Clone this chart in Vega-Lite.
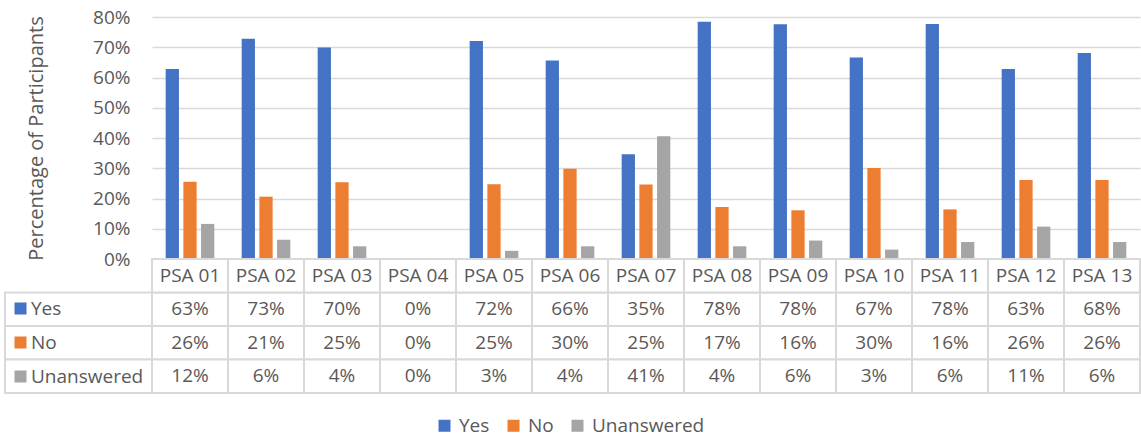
{
  "$schema": "https://vega.github.io/schema/vega-lite/v6.json",
  "padding": {"left": 4, "top": 8, "right": 0, "bottom": 6},
  "width": 988,
  "height": 376,
  "config": {
    "font": "Open Sans",
    "view": {"stroke": null},
    "text": {"font": "Open Sans"}
  },
  "datasets": {
    "psa": [
      {"cat": "PSA 01", "series": "Yes", "value": 0.628},
      {"cat": "PSA 01", "series": "No", "value": 0.2555},
      {"cat": "PSA 01", "series": "Unanswered", "value": 0.116},
      {"cat": "PSA 02", "series": "Yes", "value": 0.728},
      {"cat": "PSA 02", "series": "No", "value": 0.206},
      {"cat": "PSA 02", "series": "Unanswered", "value": 0.064},
      {"cat": "PSA 03", "series": "Yes", "value": 0.699},
      {"cat": "PSA 03", "series": "No", "value": 0.254},
      {"cat": "PSA 03", "series": "Unanswered", "value": 0.042},
      {"cat": "PSA 04", "series": "Yes", "value": 0},
      {"cat": "PSA 04", "series": "No", "value": 0},
      {"cat": "PSA 04", "series": "Unanswered", "value": 0},
      {"cat": "PSA 05", "series": "Yes", "value": 0.721},
      {"cat": "PSA 05", "series": "No", "value": 0.247},
      {"cat": "PSA 05", "series": "Unanswered", "value": 0.027},
      {"cat": "PSA 06", "series": "Yes", "value": 0.656},
      {"cat": "PSA 06", "series": "No", "value": 0.298},
      {"cat": "PSA 06", "series": "Unanswered", "value": 0.042},
      {"cat": "PSA 07", "series": "Yes", "value": 0.346},
      {"cat": "PSA 07", "series": "No", "value": 0.246},
      {"cat": "PSA 07", "series": "Unanswered", "value": 0.406},
      {"cat": "PSA 08", "series": "Yes", "value": 0.784},
      {"cat": "PSA 08", "series": "No", "value": 0.172},
      {"cat": "PSA 08", "series": "Unanswered", "value": 0.042},
      {"cat": "PSA 09", "series": "Yes", "value": 0.776},
      {"cat": "PSA 09", "series": "No", "value": 0.161},
      {"cat": "PSA 09", "series": "Unanswered", "value": 0.061},
      {"cat": "PSA 10", "series": "Yes", "value": 0.666},
      {"cat": "PSA 10", "series": "No", "value": 0.301},
      {"cat": "PSA 10", "series": "Unanswered", "value": 0.031},
      {"cat": "PSA 11", "series": "Yes", "value": 0.777},
      {"cat": "PSA 11", "series": "No", "value": 0.164},
      {"cat": "PSA 11", "series": "Unanswered", "value": 0.056},
      {"cat": "PSA 12", "series": "Yes", "value": 0.628},
      {"cat": "PSA 12", "series": "No", "value": 0.261},
      {"cat": "PSA 12", "series": "Unanswered", "value": 0.107},
      {"cat": "PSA 13", "series": "Yes", "value": 0.681},
      {"cat": "PSA 13", "series": "No", "value": 0.261},
      {"cat": "PSA 13", "series": "Unanswered", "value": 0.056}
    ]
  },
  "data": {"name": "psa"},
  "resolve": {"scale": {"x": "independent", "y": "independent"}},
  "layer": [
    {
      "mark": {"type": "bar"},
      "encoding": {
        "x": {
          "field": "cat", "type": "nominal", "axis": null,
          "scale": {"paddingInner": 0.36, "paddingOuter": 0.18}
        },
        "xOffset": {
          "field": "series", "type": "nominal",
          "sort": ["Yes", "No", "Unanswered"],
          "scale": {"domain": ["Yes", "No", "Unanswered"], "paddingInner": 0.25, "paddingOuter": 0}
        },
        "y": {
          "field": "value", "type": "quantitative",
          "scale": {"domain": [0, 0.8], "nice": false, "range": [242, 0]},
          "axis": {
            "values": [0, 0.1, 0.2, 0.3, 0.4, 0.5, 0.6, 0.7, 0.8],
            "format": ".0%",
            "labelFontSize": 19,
            "labelColor": "#595959",
            "labelPadding": 22,
            "ticks": false,
            "domain": false,
            "gridColor": "#D9D9D9",
            "gridWidth": 1.5,
            "title": "Percentage of Participants",
            "titleFontSize": 20,
            "titleFontWeight": "normal",
            "titleColor": "#595959",
            "titlePadding": 46
          }
        },
        "color": {
          "field": "series", "type": "nominal",
          "scale": {"domain": ["Yes", "No", "Unanswered"], "range": ["#4472C4", "#ED7D31", "#A5A5A5"]},
          "legend": {
            "orient": "none",
            "legendX": 283,
            "legendY": 399,
            "direction": "horizontal",
            "title": null,
            "symbolType": "square",
            "symbolSize": 144,
            "symbolStrokeWidth": 0,
            "labelFontSize": 19,
            "labelColor": "#595959",
            "labelOffset": 5,
            "columnPadding": 14
          }
        }
      }
    },
    {
      "layer": [
        {
          "mark": {"type": "rect", "fill": "white", "stroke": "#D9D9D9", "strokeWidth": 2},
          "encoding": {
            "x": {"field": "cat", "type": "nominal", "axis": null, "scale": {"paddingInner": 0, "paddingOuter": 0}},
            "y": {
              "field": "series", "type": "nominal", "axis": null,
              "scale": {"domain": ["header", "Yes", "No", "Unanswered"], "range": [242, 376], "paddingInner": 0, "paddingOuter": 0}
            }
          }
        },
        {
          "transform": [{"filter": "datum.series === 'Yes'"}],
          "mark": {"type": "rect", "fill": "white", "stroke": "#D9D9D9", "strokeWidth": 2},
          "encoding": {
            "x": {"field": "cat", "type": "nominal", "axis": null},
            "y": {"datum": "header", "type": "nominal", "axis": null}
          }
        },
        {
          "mark": {"type": "text", "fontSize": 19, "color": "#595959"},
          "encoding": {
            "x": {"field": "cat", "type": "nominal", "axis": null},
            "y": {"field": "series", "type": "nominal", "axis": null},
            "text": {"field": "value", "type": "quantitative", "format": ".0%"}
          }
        },
        {
          "transform": [{"filter": "datum.series === 'Yes'"}],
          "mark": {"type": "text", "fontSize": 19, "color": "#595959"},
          "encoding": {
            "x": {"field": "cat", "type": "nominal", "axis": null},
            "y": {"datum": "header", "type": "nominal", "axis": null},
            "text": {"field": "cat", "type": "nominal"}
          }
        }
      ]
    },
    {
      "transform": [{"filter": "datum.cat === 'PSA 01'"}],
      "layer": [
        {
          "mark": {"type": "rect", "fill": "white", "stroke": "#D9D9D9", "strokeWidth": 2},
          "encoding": {
            "x": {
              "datum": "row header", "type": "nominal", "axis": null,
              "scale": {"domain": ["row header"], "range": [-147, 0], "paddingInner": 0, "paddingOuter": 0}
            },
            "y": {
              "field": "series", "type": "nominal", "axis": null,
              "scale": {"domain": ["header", "Yes", "No", "Unanswered"], "range": [242, 376], "paddingInner": 0, "paddingOuter": 0}
            }
          }
        },
        {
          "mark": {"type": "point", "opacity": 0, "filled": true},
          "encoding": {
            "x": {"datum": "row header", "type": "nominal", "axis": null},
            "y": {"field": "series", "type": "nominal", "axis": null},
            "fill": {
              "field": "series", "type": "nominal",
              "sort": ["Yes", "No", "Unanswered"],
              "scale": {"range": ["#4472C4", "#ED7D31", "#A5A5A5"]},
              "legend": {
                "orient": "none",
                "legendX": -141,
                "legendY": 282,
                "direction": "vertical",
                "title": null,
                "symbolType": "square",
                "symbolSize": 144,
                "symbolStrokeWidth": 0,
                "symbolOpacity": 1,
                "labelFontSize": 19,
                "labelColor": "#595959",
                "labelOffset": 1,
                "rowPadding": 14
              }
            }
          }
        }
      ]
    }
  ]
}
